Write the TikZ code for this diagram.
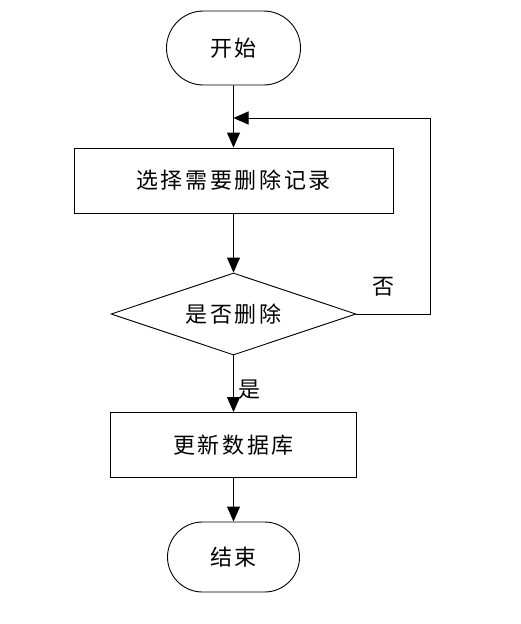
\documentclass[tikz,border=0pt]{standalone}
\usepackage{fontspec}
\newfontfamily\cjk[LetterSpace=12]{Noto Sans CJK SC}
\usetikzlibrary{shapes.geometric,shapes.misc,arrows.meta}
\begin{document}
\begin{tikzpicture}[x=1pt, y=-1pt, line width=0.9pt,
  every node/.append style={font=\cjk\fontsize{22}{26}\selectfont, inner sep=0pt},
  term/.style={draw, rounded rectangle, minimum width=134pt, minimum height=74pt},
  proc/.style={draw, rectangle, minimum height=65pt},
  cond/.style={draw, diamond, aspect=3, minimum width=245pt, minimum height=82pt},
  arr/.style={-{Triangle[length=15pt,width=13pt]}}]
  \useasboundingbox (0,0) rectangle (520,624);
  \node[term] (start) at (233.5,48) {开始};
  \node[proc, minimum width=319pt] (sel) at (233.5,180.5) {选择需要删除记录};
  \node[cond] (dec) at (233.5,314) {是否删除};
  \node[proc, minimum width=246pt] (upd) at (233.5,445) {更新数据库};
  \node[term, minimum width=132pt, minimum height=70pt] (stop) at (233.5,557) {结束};
  \coordinate (back) at (233.5,118);
  \draw[arr] (start) -- (sel);
  \draw[arr] (sel) -- (dec);
  \draw[arr] (dec) -- node[right=5pt, pos=0.6] {是} (upd);
  \draw[arr] (upd) -- (stop);
  \draw[arr] (dec.east) -- node[above=17pt, pos=0.36] {否} ++(74,0) |- (back);
\end{tikzpicture}
\end{document}
